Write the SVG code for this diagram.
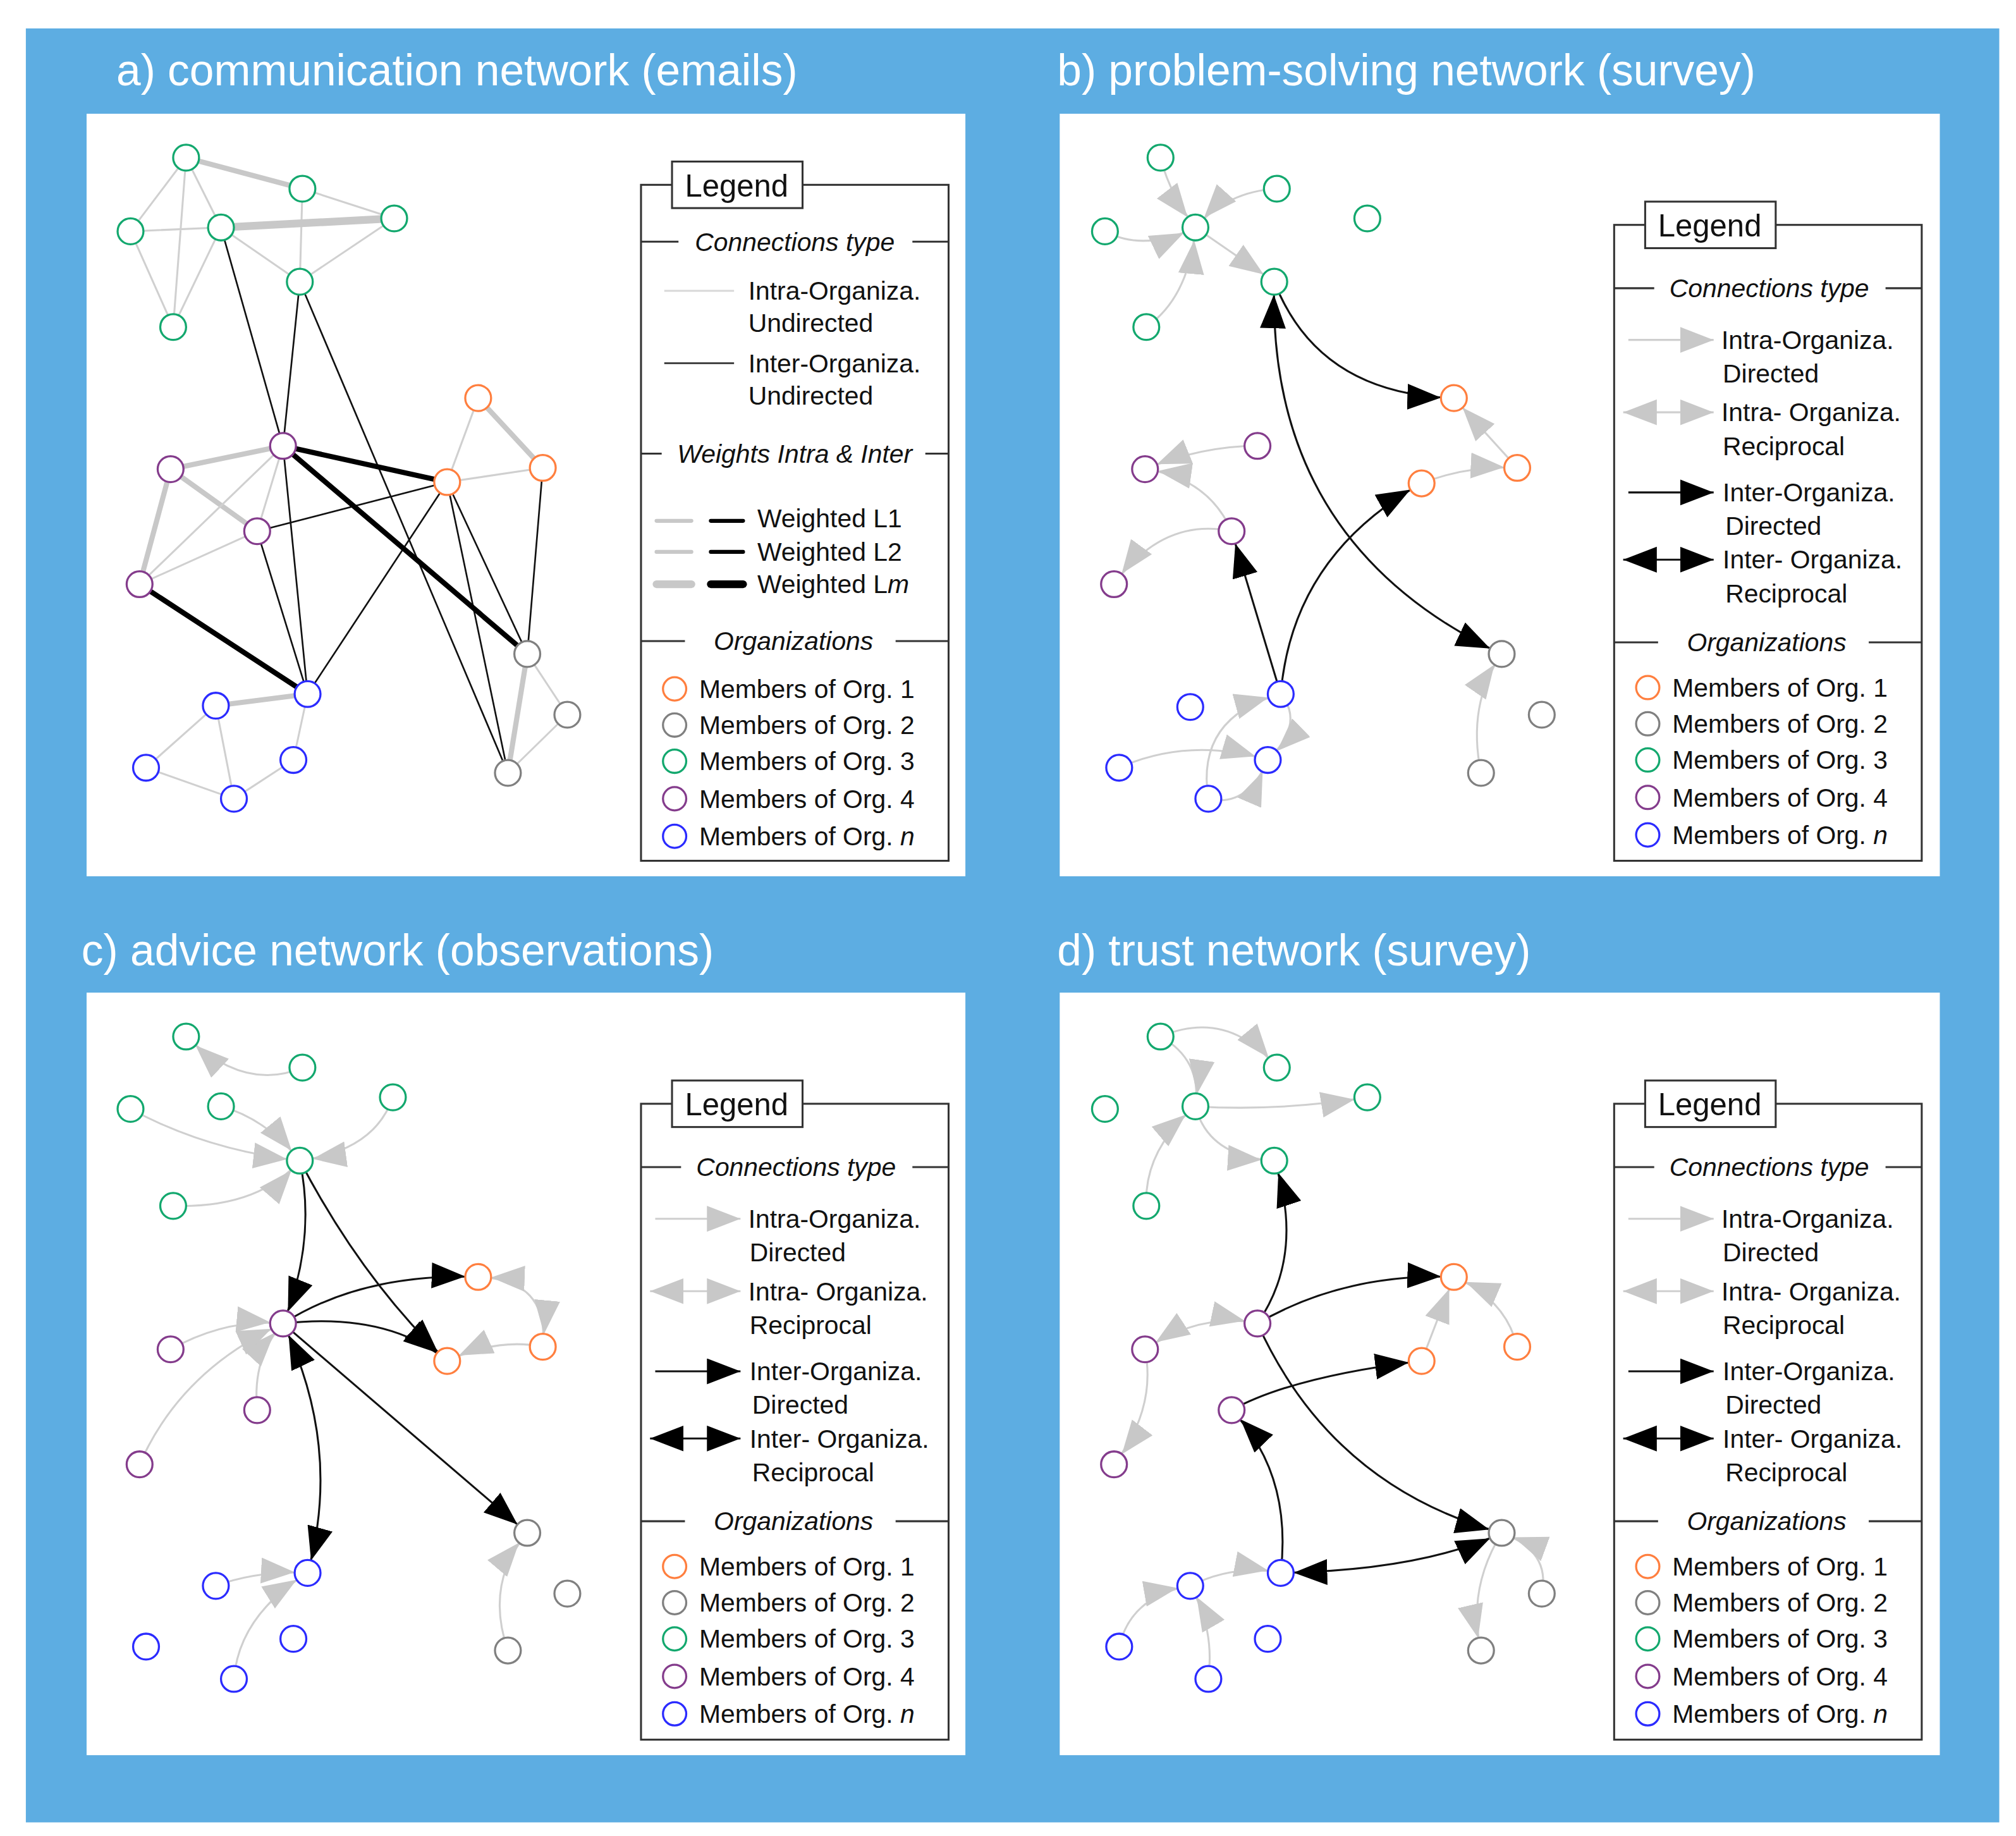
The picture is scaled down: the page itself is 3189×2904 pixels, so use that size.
<svg xmlns="http://www.w3.org/2000/svg" xmlns:xlink="http://www.w3.org/1999/xlink" width="3189" height="2904" viewBox="0 0 3189 2904">
<style>
text{font-family:"Liberation Sans",Arial,sans-serif}
.ttl{font-size:34px;fill:#fff}
.lt{font-size:20px;fill:#111}
.it{font-size:20px;fill:#111;font-style:italic}
.lg{font-size:24px;fill:#111}
.pn{fill:#fff}
.lb{fill:none;stroke:#333;stroke-width:1.5}
.ln{stroke:#333;stroke-width:1.5}
.e{fill:none;stroke:#d0d0d0;stroke-width:1.5}
.ew{fill:none;stroke:#c8c8c8;stroke-width:4}
.ewm{fill:none;stroke:#c8c8c8;stroke-width:6}
.k{fill:none;stroke:#111;stroke-width:1.3}
.kw{fill:none;stroke:#000;stroke-width:4}
.ga{fill:none;stroke:#cfcfcf;stroke-width:1.5;marker-end:url(#mg)}
.gr{fill:none;stroke:#cfcfcf;stroke-width:1.5;marker-end:url(#mg);marker-start:url(#mg)}
.ka{fill:none;stroke:#111;stroke-width:1.5;marker-end:url(#mk)}
.kr{fill:none;stroke:#111;stroke-width:1.5;marker-end:url(#mk);marker-start:url(#mk)}
circle{fill:#fff;stroke-width:1.6}
.o1{stroke:#ff7f3f}.o2{stroke:#808080}.o3{stroke:#13a86e}.o4{stroke:#843c8c}.on{stroke:#2b2bff}
</style>
<defs>
<marker id="mg" markerUnits="userSpaceOnUse" markerWidth="40" markerHeight="22" refX="36" refY="10" orient="auto-start-reverse" viewBox="0 0 40 22"><path d="M0,0 L26,10 L0,20 z" fill="#c8c8c8"/></marker>
<marker id="mk" markerUnits="userSpaceOnUse" markerWidth="40" markerHeight="22" refX="36" refY="10" orient="auto-start-reverse" viewBox="0 0 40 22"><path d="M0,0 L26,10 L0,20 z" fill="#000"/></marker>
<marker id="mg0" markerUnits="userSpaceOnUse" markerWidth="28" markerHeight="22" refX="26" refY="10" orient="auto-start-reverse" viewBox="0 0 28 22"><path d="M0,0 L26,10 L0,20 z" fill="#c8c8c8"/></marker>
<marker id="mk0" markerUnits="userSpaceOnUse" markerWidth="28" markerHeight="22" refX="26" refY="10" orient="auto-start-reverse" viewBox="0 0 28 22"><path d="M0,0 L26,10 L0,20 z" fill="#000"/></marker>
<g id="members">
<circle class="o1" cx="522" cy="533" r="9"/><text class="lt" x="541" y="540">Members of Org. 1</text>
<circle class="o2" cx="522" cy="561" r="9"/><text class="lt" x="541" y="568">Members of Org. 2</text>
<circle class="o3" cx="522" cy="589" r="9"/><text class="lt" x="541" y="596">Members of Org. 3</text>
<circle class="o4" cx="522" cy="618" r="9"/><text class="lt" x="541" y="625">Members of Org. 4</text>
<circle class="on" cx="522" cy="647" r="9"/><text class="lt" x="541" y="654">Members of Org. <tspan font-style="italic">n</tspan></text>
</g>
<g id="dlegend">
<rect class="lb" x="496" y="854" width="238" height="492" fill="#fff"/>
<rect x="520" y="836" width="101" height="36" fill="#fff" stroke="#333" stroke-width="1.5"/>
<text class="lg" x="570" y="863" text-anchor="middle">Legend</text>
<line class="ln" x1="496" y1="903" x2="527" y2="903"/><line class="ln" x1="706" y1="903" x2="734" y2="903"/>
<text class="it" x="616" y="910" text-anchor="middle">Connections type</text>
<line x1="507" y1="943" x2="573" y2="943" stroke="#cfcfcf" stroke-width="1.5" marker-end="url(#mg0)"/>
<text class="lt" x="579" y="950">Intra-Organiza.</text><text class="lt" x="580" y="976">Directed</text>
<line x1="503" y1="999" x2="573" y2="999" stroke="#cfcfcf" stroke-width="1.5" marker-end="url(#mg0)" marker-start="url(#mg0)"/>
<text class="lt" x="579" y="1006">Intra- Organiza.</text><text class="lt" x="580" y="1032">Reciprocal</text>
<line x1="507" y1="1061" x2="573" y2="1061" stroke="#111" stroke-width="1.5" marker-end="url(#mk0)"/>
<text class="lt" x="580" y="1068">Inter-Organiza.</text><text class="lt" x="582" y="1094">Directed</text>
<line x1="503" y1="1113" x2="573" y2="1113" stroke="#111" stroke-width="1.5" marker-end="url(#mk0)" marker-start="url(#mk0)"/>
<text class="lt" x="580" y="1120">Inter- Organiza.</text><text class="lt" x="582" y="1146">Reciprocal</text>
<line class="ln" x1="496" y1="1177" x2="530" y2="1177"/><line class="ln" x1="693" y1="1177" x2="734" y2="1177"/>
<text class="it" x="614" y="1184" text-anchor="middle">Organizations</text>
<use xlink:href="#members" transform="translate(0,679)"/>
</g>
</defs>
<rect width="3189" height="2904" fill="#fff"/>
<g transform="scale(2.0443)">
<rect x="20" y="22" width="1527" height="1388" fill="#5dade2"/>
<rect class="pn" x="67" y="88" width="680" height="590"/>
<rect class="pn" x="820" y="88" width="681" height="590"/>
<rect class="pn" x="67" y="768" width="680" height="590"/>
<rect class="pn" x="820" y="768" width="681" height="590"/>
<text class="ttl" x="90" y="66">a) communication network (emails)</text>
<text class="ttl" x="818" y="66">b) problem-solving network (survey)</text>
<text class="ttl" x="63" y="747">c) advice network (observations)</text>
<text class="ttl" x="818" y="747">d) trust network (survey)</text>

<g id="connectors">
<!-- panel a -->
<g>
<path class="e" d="M144,122L101,179M144,122L171,176M144,122L134,253M101,179L171,176M171,176L232,218M101,179L134,253M171,176L134,253M234,146L232,218M305,169L232,218M234,146L305,169"/>
<path class="ew" d="M144,122L234,146"/><path class="ewm" d="M171,176L305,169"/>
<path class="ew" d="M219,345L132,363M132,363L199,411M132,363L108,452M370,308L420,362M408,506L393,598M167,546L238,537"/>
<path class="e" d="M219,345L108,452M219,345L199,411M199,411L108,452M370,308L346,373M346,373L420,362M408,506L439,553M439,553L393,598M167,546L113,594M167,546L181,618M113,594L181,618M181,618L227,588M227,588L238,537"/>
<path class="k" d="M171,176L219,345M232,218L219,345M232,218L393,598M219,345L238,537M199,411L346,373M199,411L238,537M346,373L238,537M346,373L408,506M346,373L393,598M420,362L408,506"/>
<path class="kw" d="M219,345L346,373M219,345L408,506M108,452L238,537"/>
</g>
<!-- panel b -->
<g>
<path class="ga" d="M898,122Q905,150 925,176"/>
<path class="ga" d="M988,146Q950,148 925,176"/>
<path class="ga" d="M855,179Q885,195 925,176"/>
<path class="ga" d="M887,253Q920,230 925,176"/>
<path class="ga" d="M925,176L986,218"/>
<path class="ka" d="M986,218Q1020,305 1125,308"/>
<path class="kr" d="M986,218Q980,420 1162,506"/>
<path class="ka" d="M991,537L953,411"/>
<path class="ka" d="M991,537Q1000,430 1100,374"/>
<path class="ga" d="M1100,374Q1135,360 1174,362"/>
<path class="ga" d="M1174,362L1125,308"/>
<path class="ga" d="M973,345Q930,345 886,363"/>
<path class="ga" d="M953,411Q935,370 886,363"/>
<path class="ga" d="M953,411Q900,400 862,452"/>
<path class="ga" d="M1146,598Q1135,545 1162,506"/>
<path class="ga" d="M866,594Q920,570 981,588"/>
<path class="ga" d="M935,618Q925,555 991,537"/>
<path class="ga" d="M991,537Q1010,560 981,588"/>
<path class="ga" d="M935,618Q965,625 981,588"/>
</g>
<!-- panel c -->
<g>
<path class="ga" d="M234,826Q190,845 144,802"/>
<path class="ga" d="M101,858Q160,890 232,898"/>
<path class="ga" d="M171,856Q205,865 232,898"/>
<path class="ga" d="M304,849Q290,890 232,898"/>
<path class="ga" d="M134,933Q200,935 232,898"/>
<path class="ka" d="M232,898Q245,960 219,1024"/>
<path class="ka" d="M232,898Q280,990 346,1053"/>
<path class="ka" d="M219,1024Q280,985 370,988"/>
<path class="ka" d="M219,1024Q300,1015 346,1053"/>
<path class="kr" d="M219,1024Q265,1120 238,1217"/>
<path class="ka" d="M219,1024L408,1186"/>
<path class="gr" d="M370,988Q425,990 420,1042"/>
<path class="ga" d="M420,1042Q385,1035 346,1053"/>
<path class="ga" d="M132,1044Q175,1020 219,1024"/>
<path class="ga" d="M199,1091Q195,1050 219,1024"/>
<path class="ga" d="M108,1133Q140,1060 219,1024"/>
<path class="ga" d="M393,1277Q375,1225 408,1186"/>
<path class="ga" d="M167,1227Q200,1215 238,1217"/>
<path class="ga" d="M181,1299Q185,1250 238,1217"/>
</g>
<!-- panel d -->
<g>
<path class="ga" d="M898,802Q950,780 988,826"/>
<path class="ga" d="M898,802Q930,820 925,856"/>
<path class="ga" d="M925,856Q990,860 1058,849"/>
<path class="ga" d="M887,933Q885,890 925,856"/>
<path class="ga" d="M925,856Q935,895 986,898"/>
<path class="ka" d="M973,1024Q1010,970 986,898"/>
<path class="ka" d="M973,1024Q1040,985 1125,988"/>
<path class="ka" d="M973,1024Q1030,1150 1162,1186"/>
<path class="ka" d="M953,1091Q1000,1065 1100,1053"/>
<path class="ka" d="M991,1217Q1000,1140 953,1091"/>
<path class="kr" d="M991,1217Q1100,1215 1162,1186"/>
<path class="ga" d="M1100,1053L1125,988"/>
<path class="ga" d="M1174,1042Q1165,1005 1125,988"/>
<path class="gr" d="M973,1024Q930,1015 886,1044"/>
<path class="ga" d="M886,1044Q895,1090 862,1133"/>
<path class="ga" d="M1162,1186Q1135,1230 1146,1277"/>
<path class="ga" d="M1193,1233Q1200,1200 1162,1186"/>
<path class="ga" d="M866,1274Q875,1235 921,1227"/>
<path class="ga" d="M921,1227Q955,1210 991,1217"/>
<path class="ga" d="M935,1299Q940,1260 921,1227"/>
</g>
</g>

<g id="nodes-a">
<circle class="o3" cx="144" cy="122" r="10"/><circle class="o3" cx="234" cy="146" r="10"/><circle class="o3" cx="101" cy="179" r="10"/><circle class="o3" cx="171" cy="176" r="10"/><circle class="o3" cx="305" cy="169" r="10"/><circle class="o3" cx="232" cy="218" r="10"/><circle class="o3" cx="134" cy="253" r="10"/>
<circle class="o4" cx="219" cy="345" r="10"/><circle class="o4" cx="132" cy="363" r="10"/><circle class="o4" cx="199" cy="411" r="10"/><circle class="o4" cx="108" cy="452" r="10"/>
<circle class="o1" cx="370" cy="308" r="10"/><circle class="o1" cx="420" cy="362" r="10"/><circle class="o1" cx="346" cy="373" r="10"/>
<circle class="o2" cx="408" cy="506" r="10"/><circle class="o2" cx="439" cy="553" r="10"/><circle class="o2" cx="393" cy="598" r="10"/>
<circle class="on" cx="167" cy="546" r="10"/><circle class="on" cx="238" cy="537" r="10"/><circle class="on" cx="113" cy="594" r="10"/><circle class="on" cx="227" cy="588" r="10"/><circle class="on" cx="181" cy="618" r="10"/>
</g>
<g id="nodes-b">
<circle class="o3" cx="898" cy="122" r="10"/><circle class="o3" cx="988" cy="146" r="10"/><circle class="o3" cx="855" cy="179" r="10"/><circle class="o3" cx="925" cy="176" r="10"/><circle class="o3" cx="1058" cy="169" r="10"/><circle class="o3" cx="986" cy="218" r="10"/><circle class="o3" cx="887" cy="253" r="10"/>
<circle class="o1" cx="1125" cy="308" r="10"/><circle class="o1" cx="1174" cy="362" r="10"/><circle class="o1" cx="1100" cy="374" r="10"/>
<circle class="o4" cx="973" cy="345" r="10"/><circle class="o4" cx="886" cy="363" r="10"/><circle class="o4" cx="953" cy="411" r="10"/><circle class="o4" cx="862" cy="452" r="10"/>
<circle class="o2" cx="1162" cy="506" r="10"/><circle class="o2" cx="1193" cy="553" r="10"/><circle class="o2" cx="1146" cy="598" r="10"/>
<circle class="on" cx="921" cy="547" r="10"/><circle class="on" cx="991" cy="537" r="10"/><circle class="on" cx="866" cy="594" r="10"/><circle class="on" cx="981" cy="588" r="10"/><circle class="on" cx="935" cy="618" r="10"/>
</g>
<g id="nodes-c">
<circle class="o3" cx="144" cy="802" r="10"/><circle class="o3" cx="234" cy="826" r="10"/><circle class="o3" cx="101" cy="858" r="10"/><circle class="o3" cx="171" cy="856" r="10"/><circle class="o3" cx="304" cy="849" r="10"/><circle class="o3" cx="232" cy="898" r="10"/><circle class="o3" cx="134" cy="933" r="10"/>
<circle class="o4" cx="219" cy="1024" r="10"/><circle class="o4" cx="132" cy="1044" r="10"/><circle class="o4" cx="199" cy="1091" r="10"/><circle class="o4" cx="108" cy="1133" r="10"/>
<circle class="o1" cx="370" cy="988" r="10"/><circle class="o1" cx="420" cy="1042" r="10"/><circle class="o1" cx="346" cy="1053" r="10"/>
<circle class="o2" cx="408" cy="1186" r="10"/><circle class="o2" cx="439" cy="1233" r="10"/><circle class="o2" cx="393" cy="1277" r="10"/>
<circle class="on" cx="167" cy="1227" r="10"/><circle class="on" cx="238" cy="1217" r="10"/><circle class="on" cx="113" cy="1274" r="10"/><circle class="on" cx="227" cy="1268" r="10"/><circle class="on" cx="181" cy="1299" r="10"/>
</g>
<g id="nodes-d">
<circle class="o3" cx="898" cy="802" r="10"/><circle class="o3" cx="988" cy="826" r="10"/><circle class="o3" cx="855" cy="858" r="10"/><circle class="o3" cx="925" cy="856" r="10"/><circle class="o3" cx="1058" cy="849" r="10"/><circle class="o3" cx="986" cy="898" r="10"/><circle class="o3" cx="887" cy="933" r="10"/>
<circle class="o1" cx="1125" cy="988" r="10"/><circle class="o1" cx="1174" cy="1042" r="10"/><circle class="o1" cx="1100" cy="1053" r="10"/>
<circle class="o4" cx="973" cy="1024" r="10"/><circle class="o4" cx="886" cy="1044" r="10"/><circle class="o4" cx="953" cy="1091" r="10"/><circle class="o4" cx="862" cy="1133" r="10"/>
<circle class="o2" cx="1162" cy="1186" r="10"/><circle class="o2" cx="1193" cy="1233" r="10"/><circle class="o2" cx="1146" cy="1277" r="10"/>
<circle class="on" cx="921" cy="1227" r="10"/><circle class="on" cx="991" cy="1217" r="10"/><circle class="on" cx="866" cy="1274" r="10"/><circle class="on" cx="981" cy="1268" r="10"/><circle class="on" cx="935" cy="1299" r="10"/>
</g>

<g id="legend-a">
<rect class="lb" x="496" y="143" width="238" height="523" fill="#fff"/>
<rect x="520" y="125" width="101" height="36" fill="#fff" stroke="#333" stroke-width="1.5"/>
<text class="lg" x="570" y="152" text-anchor="middle">Legend</text>
<line class="ln" x1="496" y1="187" x2="525" y2="187"/><line class="ln" x1="706" y1="187" x2="734" y2="187"/>
<text class="it" x="615" y="194" text-anchor="middle">Connections type</text>
<line x1="514" y1="225" x2="568" y2="225" stroke="#d8d8d8" stroke-width="1.5"/>
<text class="lt" x="579" y="232">Intra-Organiza.</text><text class="lt" x="579" y="257">Undirected</text>
<line x1="514" y1="281" x2="568" y2="281" stroke="#444" stroke-width="1.5"/>
<text class="lt" x="579" y="288">Inter-Organiza.</text><text class="lt" x="579" y="313">Undirected</text>
<line class="ln" x1="496" y1="351" x2="512" y2="351"/><line class="ln" x1="716" y1="351" x2="734" y2="351"/>
<text class="it" x="615" y="358" text-anchor="middle">Weights Intra &amp; Inter</text>
<line x1="508" y1="403" x2="535" y2="403" stroke="#c8c8c8" stroke-width="3" stroke-linecap="round"/>
<line x1="550" y1="403" x2="575" y2="403" stroke="#000" stroke-width="3" stroke-linecap="round"/>
<text class="lt" x="586" y="408">Weighted L1</text>
<line x1="508" y1="427" x2="535" y2="427" stroke="#c8c8c8" stroke-width="3" stroke-linecap="round"/>
<line x1="550" y1="427" x2="575" y2="427" stroke="#000" stroke-width="3" stroke-linecap="round"/>
<text class="lt" x="586" y="434">Weighted L2</text>
<line x1="508" y1="452" x2="535" y2="452" stroke="#c8c8c8" stroke-width="6" stroke-linecap="round"/>
<line x1="550" y1="452" x2="575" y2="452" stroke="#000" stroke-width="6" stroke-linecap="round"/>
<text class="lt" x="586" y="459">Weighted L<tspan font-style="italic">m</tspan></text>
<line class="ln" x1="496" y1="496" x2="530" y2="496"/><line class="ln" x1="693" y1="496" x2="734" y2="496"/>
<text class="it" x="614" y="503" text-anchor="middle">Organizations</text>
<use xlink:href="#members"/>
</g>
<g id="legend-b"><use xlink:href="#dlegend" transform="translate(753,-680)"/></g>
<g id="legend-c"><use xlink:href="#dlegend"/></g>
<g id="legend-d"><use xlink:href="#dlegend" transform="translate(753,0)"/></g>
</g>
</svg>
